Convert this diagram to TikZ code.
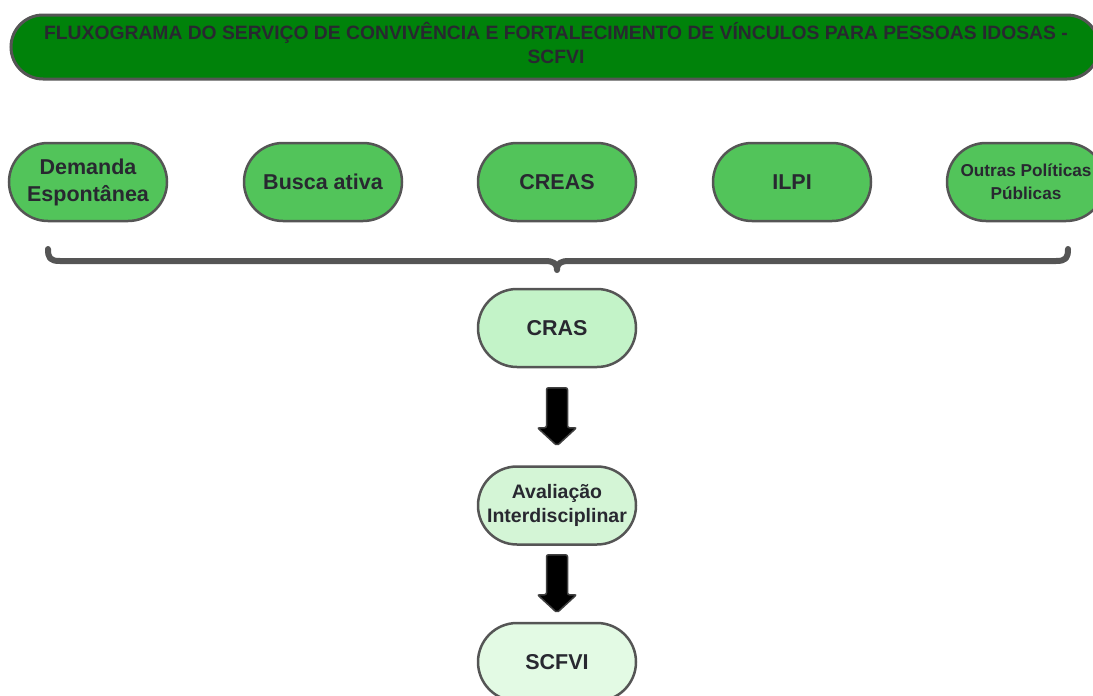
\documentclass[tikz,border=0pt]{standalone}
\usepackage{fontspec}
\setmainfont{Liberation Sans}
\usetikzlibrary{calc}

\definecolor{titlegreen}{RGB}{0,130,10}
\definecolor{sourcegreen}{RGB}{82,196,90}
\definecolor{crasgreen}{RGB}{195,243,200}
\definecolor{avalgreen}{RGB}{212,245,214}
\definecolor{scfvigreen}{RGB}{227,250,228}
\definecolor{edgegray}{RGB}{85,85,85}
\definecolor{inkgray}{RGB}{40,40,48}

\tikzset{
  pill/.style={draw=edgegray, line width=2.5pt, rounded corners=39pt,
    minimum width=158pt, minimum height=78pt, inner sep=0pt,
    align=center, text=inkgray, font=\fontsize{21.5}{27}\selectfont\bfseries},
  smalltext/.style={font=\fontsize{17.2}{23}\selectfont\bfseries},
  midtext/.style={font=\fontsize{19.5}{24}\selectfont\bfseries},
  titlebar/.style={draw=edgegray, line width=3pt, fill=titlegreen,
    rounded corners=32pt, minimum width=1088pt, minimum height=64pt,
    inner sep=0pt},
  titletext/.style={align=center, text=inkgray, inner sep=0pt,
    font=\fontsize{19.3}{24}\selectfont\bfseries},
  brace/.style={draw=edgegray, line width=6pt, line cap=round, line join=round},
  blockarrow/.style={fill=black, draw=black!75, line width=1.5pt,
    rounded corners=2pt},
  downarrow/.pic={
    \draw[blockarrow] (-10.5,-29) -- (10.5,-29) -- (10.5,11) -- (19.5,11)
      -- (0,29) -- (-19.5,11) -- (-10.5,11) -- cycle;
  }
}

\begin{document}
\begin{tikzpicture}[x=1pt, y=-1pt]
\useasboundingbox (0,0) rectangle (1093,696);
\clip (0,0) rectangle (1093,696);

% heading
\node[titlebar] (title) at (555,47) {};
\node[titletext] (titlelabel) at (556,43)
  {FLUXOGRAMA DO SERVIÇO DE CONVIVÊNCIA E FORTALECIMENTO DE VÍNCULOS PARA PESSOAS IDOSAS -\\SCFVI};

% entry points
\node[pill, fill=sourcegreen] (demanda) at (88,182) {Demanda\\Espontânea};
\node[pill, fill=sourcegreen] (busca)   at (323,182) {Busca ativa};
\node[pill, fill=sourcegreen] (creas)   at (557,182) {CREAS};
\node[pill, fill=sourcegreen] (ilpi)    at (792,182) {ILPI};
\node[pill, fill=sourcegreen, smalltext] (outras) at (1026,182) {Outras Políticas\\Públicas};

% brace gathering the entry points
\coordinate (bl) at (48,249);
\coordinate (br) at (1068,249);
\coordinate (bt) at (557,270);
\draw[brace] (bl) .. controls (48,258) and (50,261) .. (60,261) -- (545,261)
  .. controls (553,261) and (557,263) .. (bt)
  .. controls (557,263) and (561,261) .. (569,261) -- (1056,261)
  .. controls (1066,261) and (1068,258) .. (br);

% main flow
\node[pill, fill=crasgreen]  (cras)  at (557,328) {CRAS};
\node[pill, fill=avalgreen, midtext] (aval) at (557,505.5) {Avaliação\\Interdisciplinar};
\node[pill, fill=scfvigreen] (scfvi) at (557,662) {SCFVI};

\pic (arrowone) at ($(cras.south)!0.5!(aval.north)$) {downarrow};
\pic (arrowtwo) at ($(aval.south)!0.5!(scfvi.north)$) {downarrow};
\end{tikzpicture}
\end{document}
